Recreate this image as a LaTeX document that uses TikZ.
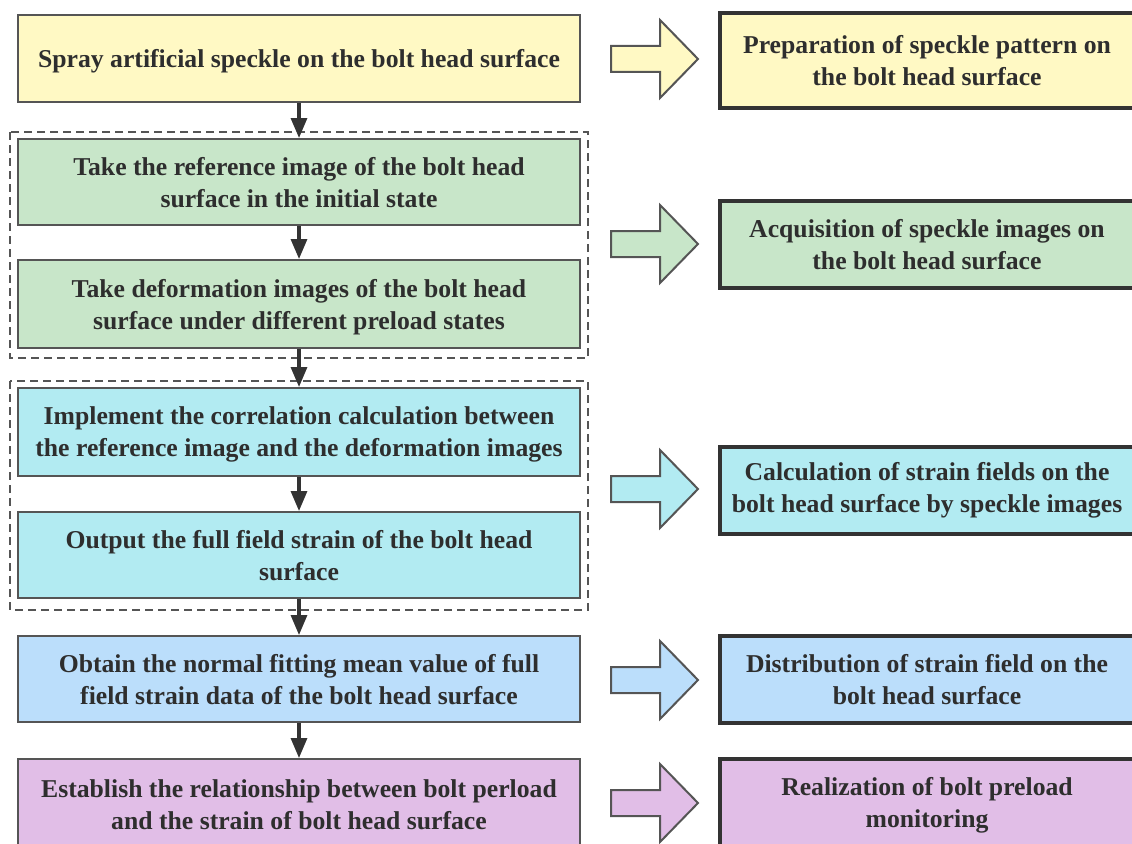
\documentclass[tikz,border=0pt]{standalone}
\usepackage{fontspec}
\setmainfont{Liberation Serif}
\usetikzlibrary{arrows.meta}
\definecolor{cyel}{HTML}{FFF9C4}
\definecolor{cgrn}{HTML}{C8E6C9}
\definecolor{ccyn}{HTML}{B2EBF2}
\definecolor{cblu}{HTML}{BBDEFB}
\definecolor{cpur}{HTML}{E1BEE7}
\definecolor{txt}{HTML}{2E2E2E}
\definecolor{lbord}{HTML}{555555}
\definecolor{rbord}{HTML}{333333}
\tikzset{
  lbox/.style={draw=lbord, line width=2pt, minimum width=562pt, minimum height=87pt,
    inner sep=0pt, text depth=0pt, align=center, text=txt, font=\bfseries\fontsize{25.7}{32}\selectfont},
  rbox/.style={draw=rbord, line width=3.5pt, minimum width=414pt, minimum height=87pt,
    inner sep=0pt, align=center, text=txt, font=\bfseries\fontsize{25.7}{32}\selectfont},
  varrow/.style={draw=rbord, line width=3.2pt, -{Triangle[length=20pt,width=16pt]}},
  dashbox/.style={draw=lbord, line width=1.8pt, dash pattern=on 8pt off 5pt},
  bigarrow/.pic={\draw[draw=lbord, line width=2pt, fill=#1]
     (0,-13) -- (49,-13) -- (49,-39) -- (87,0) -- (49,39) -- (49,13) -- (0,13) -- cycle;},
}
\begin{document}
\begin{tikzpicture}[x=1pt,y=-1pt]
\useasboundingbox (0,0) rectangle (1132,843);
% dashed groups
\draw[dashbox] (10,132) rectangle (588,358);
\draw[dashbox] (10,381) rectangle (588,610);
% left column
\node[lbox, fill=cyel] (l1) at (299,58.5) {Spray artificial speckle on the bolt head surface};
\node[lbox, fill=cgrn, minimum height=86pt] (l2) at (299,182) {Take the reference image of the bolt head\\surface in the initial state};
\node[lbox, fill=cgrn, minimum height=88pt] (l3) at (299,304) {Take deformation images of the bolt head\\surface under different preload states};
\node[lbox, fill=ccyn, minimum height=88pt] (l4) at (299,432) {Implement the correlation calculation between\\the reference image and the deformation images};
\node[lbox, fill=ccyn, minimum height=86pt] (l5) at (299,555) {Output the full field strain of the bolt head\\surface};
\node[lbox, fill=cblu, minimum height=86pt] (l6) at (299,679) {Obtain the normal fitting mean value of full\\field strain data of the bolt head surface};
\node[lbox, fill=cpur, minimum height=92pt] (l7) at (299,805) {Establish the relationship between bolt perload\\and the strain of bolt head surface};
% vertical connectors
\draw[varrow] (l1) -- (l2);
\draw[varrow] (l2) -- (l3);
\draw[varrow] (l3) -- (l4);
\draw[varrow] (l4) -- (l5);
\draw[varrow] (l5) -- (l6);
\draw[varrow] (l6) -- (l7);
% block arrows
\pic at (611,59) {bigarrow=cyel};
\pic at (611,244) {bigarrow=cgrn};
\pic at (611,489) {bigarrow=ccyn};
\pic at (611,680) {bigarrow=cblu};
\pic at (611,803) {bigarrow=cpur};
% right column
\node[rbox, fill=cyel, minimum height=95pt] (r1) at (927,60.3) {Preparation of speckle pattern on\\the bolt head surface};
\node[rbox, fill=cgrn] (r2) at (927,244.5) {Acquisition of speckle images on\\the bolt head surface};
\node[rbox, fill=ccyn] (r3) at (927,490.5) {Calculation of strain fields on the\\bolt head surface by speckle images};
\node[rbox, fill=cblu] (r4) at (927,679.5) {Distribution of strain field on the\\bolt head surface};
\node[rbox, fill=cpur, minimum height=92pt] (r5) at (927,805) {Realization of bolt preload\\monitoring};
\end{tikzpicture}
\end{document}
